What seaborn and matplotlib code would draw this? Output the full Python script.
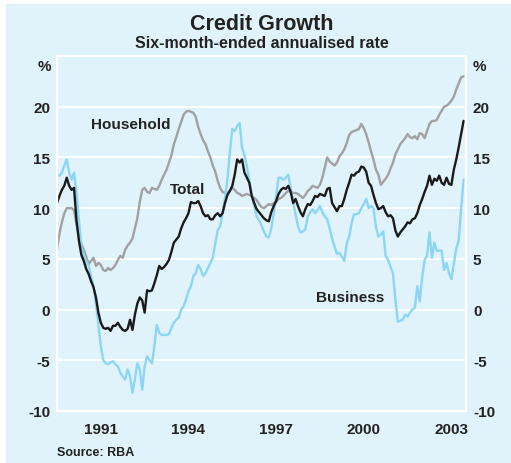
import numpy as np
import pandas as pd
import matplotlib.pyplot as plt
import seaborn as sns
from matplotlib.patches import Rectangle

# Six-month-ended annualised credit growth, monthly Jan 1990 - Dec 2003 (%)
total = [10.5, 11.2, 11.8, 12.2, 13.0, 12.2, 11.8, 12.0, 8.8, 6.8, 5.4, 4.8,
         4.0, 3.5, 2.8, 2.2, 1.2, -0.3, -1.3, -1.8, -1.9, -1.8, -2.1, -1.6,
         -1.6, -1.3, -1.7, -2.0, -2.1, -1.9, -1.0, -2.0, -0.5, 0.6, 1.2, 0.9,
         -0.3, 1.9, 1.8, 1.9, 2.6, 3.4, 4.3, 4.0, 4.2, 4.5, 4.9, 5.7,
         6.6, 6.9, 7.2, 8.0, 8.6, 9.0, 9.5, 10.6, 10.5, 10.5, 10.7, 10.2,
         9.5, 9.2, 9.3, 8.9, 8.9, 9.3, 9.5, 9.2, 9.5, 10.5, 11.3, 11.7,
         12.2, 13.3, 14.8, 14.5, 14.8, 13.5, 13.0, 12.5, 11.2, 10.5, 9.9, 9.6,
         9.3, 9.0, 8.8, 8.7, 9.6, 10.2, 10.7, 11.4, 11.8, 12.0, 11.9, 12.2,
         11.6, 10.5, 10.9, 10.2, 9.6, 9.2, 9.9, 10.4, 10.3, 10.7, 11.2, 11.1,
         11.4, 11.3, 11.2, 11.9, 12.0, 10.5, 10.1, 9.7, 10.2, 10.2, 10.9, 11.8,
         12.5, 13.3, 13.2, 13.5, 13.6, 14.1, 14.0, 13.6, 12.5, 12.2, 11.3, 10.5,
         9.9, 10.0, 10.2, 9.6, 9.2, 9.3, 9.0, 7.8, 7.2, 7.6, 7.9, 8.2,
         8.6, 8.5, 8.9, 9.0, 9.5, 10.3, 10.9, 11.6, 12.2, 13.2, 12.3, 12.9,
         12.7, 13.2, 12.5, 12.3, 13.0, 12.4, 12.3, 13.8, 14.8, 16.0, 17.3, 18.6]

household = [5.9, 7.5, 8.6, 9.5, 10.0, 10.0, 10.0, 9.8, 8.4, 7.3, 6.5, 5.9,
             5.2, 4.5, 4.8, 5.1, 4.3, 4.6, 4.4, 3.9, 3.8, 4.1, 3.9, 4.1,
             4.4, 4.9, 5.3, 5.1, 5.9, 6.3, 6.6, 7.0, 8.0, 9.0, 10.6, 11.8,
             12.0, 11.6, 11.5, 12.0, 11.9, 11.8, 12.2, 12.8, 13.3, 13.8, 14.5, 15.2,
             16.3, 17.0, 17.8, 18.5, 19.2, 19.5, 19.6, 19.5, 19.4, 19.0, 18.0, 17.3,
             16.7, 16.3, 15.6, 15.0, 14.2, 13.6, 12.7, 12.0, 11.6, 11.5, 11.5, 11.7,
             12.0, 11.8, 11.5, 11.4, 11.2, 11.3, 11.4, 11.3, 11.2, 11.0, 10.8, 10.4,
             10.1, 10.0, 10.2, 10.4, 10.3, 10.5, 10.6, 10.9, 11.0, 11.2, 11.5, 11.7,
             11.6, 11.5, 11.5, 11.4, 11.2, 11.0, 11.3, 11.7, 11.9, 12.2, 12.1, 12.0,
             12.3, 13.0, 14.0, 15.0, 14.6, 14.4, 14.2, 14.5, 15.1, 15.4, 15.8, 16.4,
             17.2, 17.5, 17.6, 17.7, 17.8, 18.3, 17.9, 17.3, 16.5, 15.6, 14.8, 13.8,
             13.3, 12.3, 12.6, 12.9, 13.3, 13.9, 14.5, 15.3, 15.8, 16.3, 16.6, 16.9,
             17.3, 17.0, 16.9, 17.1, 16.8, 17.4, 17.3, 16.9, 17.6, 18.3, 18.6, 18.6,
             18.7, 19.2, 19.6, 20.0, 20.1, 20.3, 20.6, 21.0, 21.7, 22.3, 22.9, 23.0]

business = [13.3, 13.2, 13.5, 14.2, 14.8, 13.5, 12.8, 13.5, 11.5, 8.9, 6.2, 5.4,
            4.8, 4.3, 3.3, 2.3, 0.6, -1.5, -3.6, -5.0, -5.3, -5.4, -5.2, -5.1,
            -5.4, -5.6, -6.2, -6.6, -6.9, -5.9, -6.6, -8.2, -6.9, -5.3, -5.9, -7.9,
            -5.6, -4.6, -5.0, -5.3, -3.6, -1.5, -2.3, -2.5, -2.5, -2.5, -2.4, -1.8,
            -1.3, -1.0, -0.8, 0.0, 0.3, 1.0, 1.8, 2.3, 3.3, 3.6, 4.4, 4.0,
            3.3, 3.6, 4.1, 4.6, 5.1, 6.5, 7.8, 8.2, 9.5, 11.0, 12.8, 15.5,
            17.8, 17.6, 18.1, 18.4, 16.0, 15.2, 14.1, 12.7, 11.2, 10.2, 9.2, 8.8,
            8.3, 7.7, 7.2, 7.1, 8.0, 9.5, 11.2, 13.0, 13.0, 12.8, 13.0, 13.3,
            12.0, 10.6, 9.4, 8.2, 7.6, 7.7, 7.9, 9.2, 9.6, 9.9, 9.5, 9.8,
            10.2, 9.6, 9.2, 8.9, 8.0, 7.0, 6.2, 5.5, 5.6, 5.2, 4.8, 6.5,
            7.2, 8.5, 9.4, 9.4, 9.5, 10.0, 10.4, 10.9, 10.0, 10.2, 10.0, 8.2,
            7.2, 7.4, 7.7, 5.3, 4.9, 4.2, 3.6, 1.0, -1.2, -1.1, -1.0, -0.5,
            -0.7, -0.3, 0.0, 0.2, 2.3, 0.8, 3.2, 4.9, 5.3, 7.6, 5.1, 6.6,
            5.8, 5.8, 5.8, 3.9, 4.6, 3.6, 3.0, 4.5, 6.0, 6.8, 9.9, 12.8]

year_ticks = list(range(1991, 2004))
year_labels = ["1991", "1994", "1997", "2000", "2003"]
y_ticks = [-10, -5, 0, 5, 10, 15, 20]

BG = "#e0f2fa"
colors = {"Household": "#9fa1a3", "Business": "#8cd6f5", "Total": "#1a1a1a"}

years = 1990 + np.arange(len(total)) / 12
df = pd.DataFrame({"year": years, "Household": household,
                   "Business": business, "Total": total})
df = df.melt(id_vars="year", var_name="series", value_name="rate")

sns.set_style("white", {"axes.facecolor": BG})
plt.rcParams["font.family"] = ["Liberation Sans", "DejaVu Sans"]
plt.rcParams["font.weight"] = "bold"

fig = plt.figure(figsize=(5.11, 4.64), dpi=100)
fig.patch.set_facecolor("white")
fig.patches.append(Rectangle((6 / 511, 0), 1, (464 - 5) / 464,
                             transform=fig.transFigure, color=BG, zorder=-10))
ax = fig.add_axes([57 / 511, 52 / 464, 409 / 511, 355 / 464])

sns.lineplot(data=df, x="year", y="rate", hue="series", palette=colors,
             hue_order=["Household", "Business", "Total"],
             linewidth=1.7, legend=False, ax=ax)

ax.set_xlim(1990, 2004)
ax.set_ylim(-10, 25)
ax.set_xlabel("")
ax.set_ylabel("")

ax.set_xticks(year_ticks)
ax.set_xticklabels([])
ax.tick_params(axis="x", which="major", direction="in", length=8, width=1.2,
               color="white")
ax.set_xticks([int(y) + 0.5 for y in year_labels], minor=True)
ax.set_xticklabels(year_labels, minor=True, fontsize=11, fontweight="bold",
                   color="#222222")
ax.tick_params(axis="x", which="minor", length=0, pad=8)

ax.set_yticks(y_ticks)
ax.set_yticklabels([str(v) for v in y_ticks], fontsize=11, fontweight="bold",
                   color="#222222")
ax.tick_params(axis="y", length=0, pad=5, labelright=True)
ax.yaxis.grid(True, color="white", linewidth=1.3)
ax.xaxis.grid(False)
for s in ax.spines.values():
    s.set_color("white")
    s.set_linewidth(1.6)

for xx, ha in [(-0.015, "right"), (1.017, "left")]:
    ax.text(xx, 24.0, "%", transform=ax.get_yaxis_transform(), ha=ha,
            va="center", fontsize=11, fontweight="bold", color="#222222")

ax.text(1991.16, 18.3, "Household", fontsize=11, fontweight="bold",
        color="#222222", va="center")
ax.text(1993.87, 11.85, "Total", fontsize=11, fontweight="bold",
        color="#222222", va="center")
ax.text(1998.87, 1.2, "Business", fontsize=11, fontweight="bold",
        color="#222222", va="center")

fig.text(262 / 511, 1 - 24 / 464, "Credit Growth", ha="center", va="center",
         fontsize=15.5, fontweight="bold", color="#222222")
fig.text(262 / 511, 1 - 43 / 464, "Six-month-ended annualised rate",
         ha="center", va="center", fontsize=11.5, fontweight="bold",
         color="#222222")
fig.text(57 / 511, 1 - 453 / 464, "Source: RBA", ha="left", va="center",
         fontsize=9, fontweight="bold", color="#222222")

fig.savefig("out.png", dpi=100)
